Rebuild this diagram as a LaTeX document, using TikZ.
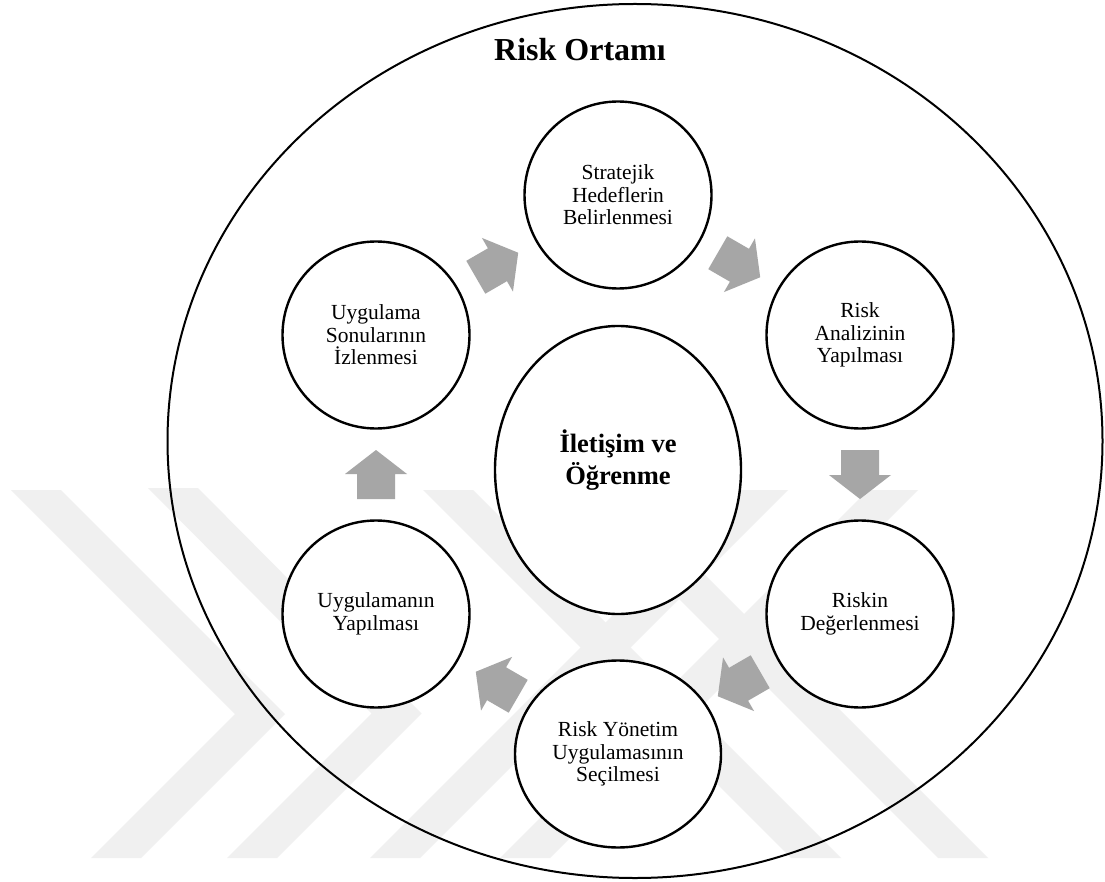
\documentclass[tikz,border=0pt]{standalone}
\usepackage{fontspec}
\setmainfont{Liberation Serif}
\usetikzlibrary{shapes.geometric,calc}
\definecolor{arrowgray}{RGB}{166,166,166}
\definecolor{wmgray}{RGB}{240,240,240}
\begin{document}
\begin{tikzpicture}[x=1pt,y=-1pt,
  stage/.style={circle, draw=black, line width=2.4pt, fill=white, minimum size=187pt,
    inner sep=0pt, align=center, font=\fontsize{21.5}{22.5}\selectfont},
  wm/.style={fill=wmgray, draw=none},
  blockarrow/.pic={\fill[arrowgray] (-24.5,-19)--(0.5,-19)--(0.5,-31)--(24.5,0)--(0.5,31)--(0.5,19)--(-24.5,19)--cycle;}]
\fill[white] (0,0) rectangle (1105,882);
\useasboundingbox (0,0) rectangle (1105,882);
% faint watermark stripes
\fill[wm] (11,490)--(61,490)--(285,714)--(141,858)--(91,858)--(235,714)--cycle;
\fill[wm] (148,488)--(198,488)--(421.5,713.5)--(277,858)--(227,858)--(371.5,713.5)--cycle;
\fill[wm] (423,490)--(473,490)--(841,858)--(791,858)--cycle;
\fill[wm] (570,490)--(620,490)--(988,858)--(938,858)--cycle;
\fill[wm] (738,490)--(788,490)--(420,858)--(370,858)--cycle;
\fill[wm] (868,490)--(918,490)--(550,858)--(500,858)--cycle;
% environment
\node[ellipse, draw=black, line width=2pt, minimum width=935pt, minimum height=874pt, inner sep=0pt] (env) at (635,441) {};
\node[anchor=base, font=\fontsize{32}{38}\selectfont\bfseries] (title) at (580,61) {Risk Ortamı};
% stages
\node[stage] (strat) at (618,195) {Stratejik\\Hedeflerin\\Belirlenmesi};
\node[stage] (analiz) at (860,335) {Risk\\Analizinin\\Yapılması};
\node[stage] (deger) at (860,614) {Riskin\\Değerlenmesi};
\node[stage, ellipse, minimum width=206pt, minimum height=187pt] (secim) at (618,754) {Risk Yönetim\\Uygulamasının\\Seçilmesi};
\node[stage] (uygula) at (376,614) {Uygulamanın\\Yapılması};
\node[stage] (izle) at (376,335) {Uygulama\\Sonularının\\İzlenmesi};
\node[ellipse, draw=black, line width=2.4pt, fill=white, minimum width=246pt, minimum height=288pt, inner sep=0pt,
  label={[yshift=10pt, align=center, font=\fontsize{26.5}{32}\selectfont\bfseries]center:{İletişim ve\\Öğrenme}}] (core) at (618,470) {};
% block arrows, each at the midpoint between two stages and turned along them
\foreach \a/\b in {izle/strat, strat/analiz, analiz/deger, deger/secim, secim/uygula, uygula/izle}{
  \path let \p1=($(\b.center)-(\a.center)$), \n1={atan2(\y1,\x1)} in
    ($(\a.center)!0.5!(\b.center)$) pic[rotate=\n1] {blockarrow};
}
\end{tikzpicture}
\end{document}
